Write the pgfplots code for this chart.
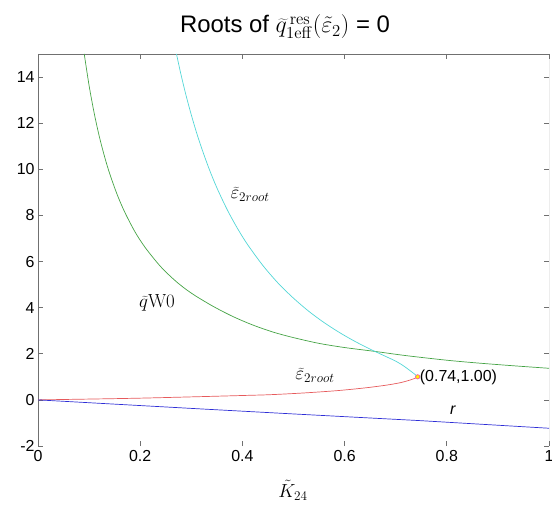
\RequirePackage{fix-cm}
\documentclass[border=0pt]{standalone}
\usepackage[no-math]{fontspec}
\setmainfont{Liberation Sans}
\usepackage{pgfplots}
\pgfplotsset{compat=1.18}
\usetikzlibrary{calc}
\definecolor{cGreen}{HTML}{45A345}
\definecolor{cCyan}{HTML}{52D6D6}
\definecolor{cRed}{HTML}{E65A5C}
\definecolor{cBlue}{HTML}{2E2ED6}
\definecolor{cFrame}{HTML}{707070}

\begin{document}
\begin{tikzpicture}
\begin{axis}[
  scale only axis, width=511bp, height=392bp,
  xmin=0, xmax=1, ymin=-2, ymax=15,
  xtick={0,0.2,0.4,0.6,0.8,1},
  xticklabels={0,0.2,0.4,0.6,0.8,1},
  ytick={-2,0,2,4,6,8,10,12,14},
  tick align=inside, major tick length=5bp,
  tick style={cFrame, line width=0.7pt},
  axis line style={draw=none},
  tick label style={font=\fontsize{16}{18}\selectfont},
  /pgf/number format/assume math mode=true,
  xticklabel style={yshift=-1bp},
  every axis plot/.append style={line width=0.7pt, mark=none},
  clip=true,
]
% frame
\draw[cFrame, line width=0.8pt] (rel axis cs:0,0) -- (rel axis cs:0,1) -- (rel axis cs:1,1) -- (rel axis cs:1,0);
\draw[black!25, line width=0.8pt] (rel axis cs:0,0) -- (rel axis cs:1,0);

% qW0 (green)
\addplot[cGreen, smooth, tension=0.5] coordinates {
(0.0905,15.0)(0.100,13.63)(0.110,12.43)(0.120,11.42)(0.130,10.57)(0.140,9.83)(0.155,8.90)
(0.170,8.13)(0.190,7.28)(0.210,6.60)(0.240,5.78)(0.270,5.14)(0.300,4.63)(0.340,4.09)
(0.380,3.63)(0.420,3.25)(0.460,2.94)(0.500,2.70)(0.550,2.45)(0.600,2.27)(0.660,2.10)
(0.720,1.92)(0.800,1.72)(0.860,1.60)(0.930,1.48)(1.000,1.37)};

% upper root (cyan)
\addplot[cCyan, smooth, tension=0.5] coordinates {
(0.271,15.0)(0.280,14.09)(0.290,13.18)(0.300,12.36)(0.310,11.61)(0.320,10.93)(0.335,10.01)
(0.350,9.20)(0.370,8.26)(0.390,7.45)(0.410,6.74)(0.440,5.83)(0.470,5.06)(0.500,4.41)
(0.530,3.84)(0.560,3.35)(0.590,2.92)(0.620,2.54)(0.650,2.20)(0.675,1.94)(0.700,1.68)
(0.715,1.48)(0.728,1.27)(0.738,1.10)(0.743,1.00)};

% lower root (red)
\addplot[cRed, smooth, tension=0.5] coordinates {
(0,0)(0.100,0.035)(0.200,0.075)(0.317,0.14)(0.400,0.19)(0.454,0.225)(0.520,0.30)
(0.585,0.40)(0.640,0.52)(0.682,0.64)(0.710,0.75)(0.728,0.86)(0.738,0.94)(0.743,1.00)};

% r (blue)
\addplot[cBlue] coordinates {
(0,0)(0.317,-0.39)(0.500,-0.61)(0.748,-0.90)(1.000,-1.23)};

% fold point
\addplot[only marks, mark=*, mark size=2.2pt, draw=magenta!70, fill=yellow, line width=0.6pt]
  coordinates {(0.743,1.00)};

\node[font=\fontsize{16}{18}\selectfont, anchor=west, inner sep=0pt] at (axis cs:0.747,0.97) {(0.74,1.00)};
\node[font=\fontsize{19}{22}\selectfont] at (axis cs:0.415,8.9) {$\widetilde{\varepsilon}_{2root}$};
\node[font=\fontsize{19}{22}\selectfont] at (axis cs:0.542,1.05) {$\widetilde{\varepsilon}_{2root}$};
\node[font=\fontsize{19}{22}\selectfont] at (axis cs:0.233,4.2) {$\widetilde{q}\mathrm{W0}$};
\node[font=\fontsize{16}{18}\selectfont] at (axis cs:0.812,-0.43) {\textit{r}};

\coordinate (ll) at (rel axis cs:0,0);
\coordinate (ur) at (rel axis cs:1,1);
\end{axis}
\node[font=\fontsize{24}{28}\selectfont] at ($(ur)+(-264bp,27bp)$) {Roots of $\widetilde{q}^{\,\mathrm{res}}_{1\mathrm{eff}}(\tilde{\varepsilon}_2)$ = 0};
\node[font=\fontsize{19}{22}\selectfont] at ($(ll)+(255bp,-44bp)$) {$\tilde{K}_{24}$};
\pgfresetboundingbox
\path[use as bounding box] ($(ll)+(-38bp,-66bp)$) rectangle ($(ur)+(3bp,54bp)$);
\end{tikzpicture}
\end{document}
